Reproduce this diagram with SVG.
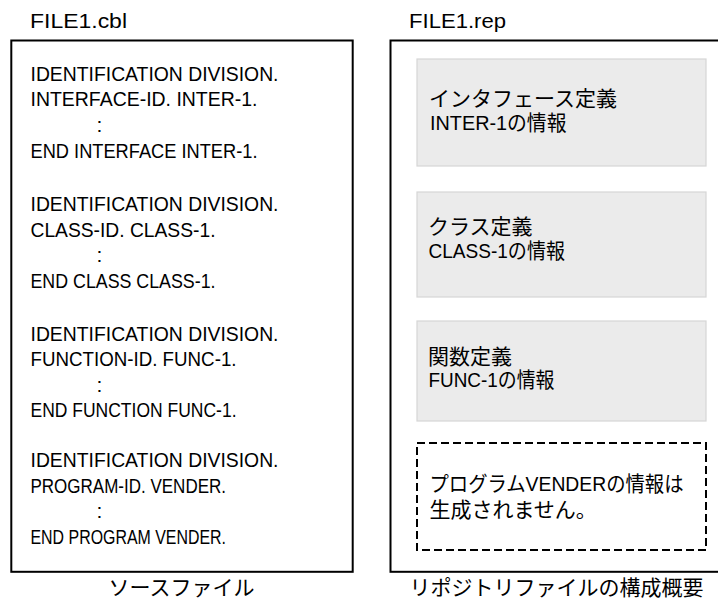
<svg xmlns="http://www.w3.org/2000/svg" width="718" height="601" viewBox="0 0 718 601">
<style>
text{font-family:"Liberation Sans","Noto Sans CJK JP",sans-serif;font-size:21px;fill:#000}
.frame{fill:#fff;stroke:#000;stroke-width:2}
.info{fill:#ebebeb;stroke:#d6d6d6;stroke-width:1.2}
.none{fill:#fff;stroke:#000;stroke-width:2;stroke-dasharray:8 4}
.mid{text-anchor:middle}
</style>
<rect width="718" height="601" fill="#fff"/>
<g id="source-file">
<text x="30" y="27.5" textLength="97" lengthAdjust="spacingAndGlyphs">FILE1.cbl</text>
<rect class="frame" x="11.3" y="40.5" width="341.4" height="531.3"/>
<g id="interface-src">
<text x="30.5" y="80.5" textLength="248" lengthAdjust="spacingAndGlyphs">IDENTIFICATION DIVISION.</text>
<text x="30.5" y="106.3" textLength="227" lengthAdjust="spacingAndGlyphs">INTERFACE-ID. INTER-1.</text>
<text class="mid" x="99.5" y="132">:</text>
<text x="30.5" y="158" textLength="227" lengthAdjust="spacingAndGlyphs">END INTERFACE INTER-1.</text>
</g>
<g id="class-src">
<text x="30.5" y="210.7" textLength="248" lengthAdjust="spacingAndGlyphs">IDENTIFICATION DIVISION.</text>
<text x="30.5" y="236.5" textLength="185" lengthAdjust="spacingAndGlyphs">CLASS-ID. CLASS-1.</text>
<text class="mid" x="99.5" y="262.3">:</text>
<text x="30.5" y="288.1" textLength="185" lengthAdjust="spacingAndGlyphs">END CLASS CLASS-1.</text>
</g>
<g id="function-src">
<text x="30.5" y="340.5" textLength="248" lengthAdjust="spacingAndGlyphs">IDENTIFICATION DIVISION.</text>
<text x="30.5" y="366.3" textLength="206" lengthAdjust="spacingAndGlyphs">FUNCTION-ID. FUNC-1.</text>
<text class="mid" x="99.5" y="392">:</text>
<text x="30.5" y="417" textLength="206" lengthAdjust="spacingAndGlyphs">END FUNCTION FUNC-1.</text>
</g>
<g id="program-src">
<text x="30.5" y="466.7" textLength="248" lengthAdjust="spacingAndGlyphs">IDENTIFICATION DIVISION.</text>
<text x="30.5" y="492.5" textLength="195.5" lengthAdjust="spacingAndGlyphs">PROGRAM-ID. VENDER.</text>
<text class="mid" x="99.5" y="518.3">:</text>
<text x="30.5" y="544.1" textLength="195.5" lengthAdjust="spacingAndGlyphs">END PROGRAM VENDER.</text>
</g>
<text class="mid" x="181.5" y="594.5">ソースファイル</text>
</g>
<g id="repository-file">
<text x="409" y="27.5" textLength="97" lengthAdjust="spacingAndGlyphs">FILE1.rep</text>
<rect class="frame" x="390.5" y="40.5" width="340" height="531.3"/>
<g id="interface-info">
<rect class="info" x="417" y="59" width="289" height="107"/>
<text x="429" y="106">インタフェース定義</text>
<text x="430" y="129.5" textLength="136.5" lengthAdjust="spacingAndGlyphs">INTER-1の情報</text>
</g>
<g id="class-info">
<rect class="info" x="417" y="192" width="289" height="105"/>
<text x="428" y="234">クラス定義</text>
<text x="428.5" y="257.5" textLength="136.5" lengthAdjust="spacingAndGlyphs">CLASS-1の情報</text>
</g>
<g id="function-info">
<rect class="info" x="417" y="321" width="289" height="100"/>
<text x="428" y="363.5">関数定義</text>
<text x="428.5" y="387" textLength="126" lengthAdjust="spacingAndGlyphs">FUNC-1の情報</text>
</g>
<g id="program-info">
<rect class="none" x="417" y="443" width="289" height="107"/>
<text x="429.5" y="490.5" textLength="254" lengthAdjust="spacingAndGlyphs">プログラムVENDERの情報は</text>
<text x="429.5" y="517">生成されません。</text>
</g>
<text class="mid" x="556.5" y="594.5">リポジトリファイルの構成概要</text>
</g>
<g id="connectors"/>
</svg>
